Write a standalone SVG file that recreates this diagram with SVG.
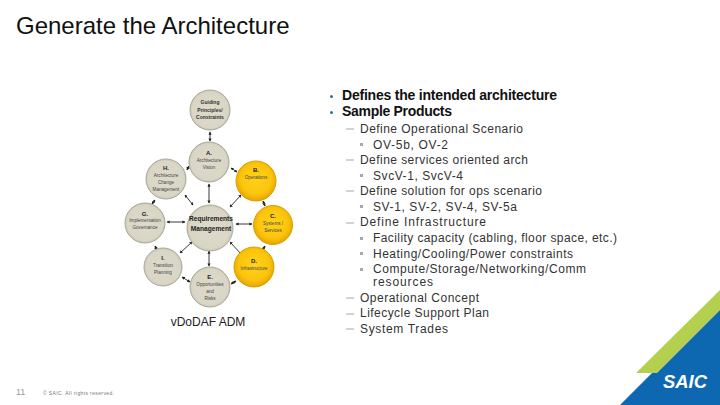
<svg xmlns="http://www.w3.org/2000/svg" width="720" height="405" viewBox="0 0 720 405">
<style>
text{font-family:"Liberation Sans",Arial,sans-serif;fill:#1c1c1c}
.l{font-size:12px;fill:#333}
.b{font-size:14px;font-weight:bold;fill:#111}
.g{fill:url(#gg);stroke:#a9a99a;stroke-width:1}
.y{fill:url(#yg);stroke:#d9a100;stroke-width:1}
.c{font-size:4.6px;text-anchor:middle;fill:#444}
.s{font-size:5px;text-anchor:middle;font-weight:bold;fill:#333}
.h{font-size:6px;text-anchor:middle;font-weight:bold;fill:#222}
.m{font-size:6.6px;text-anchor:middle;font-weight:bold;fill:#222}
.d{fill:#a8a8a8}
line{stroke:#222;stroke-width:.9;marker-start:url(#a);marker-end:url(#a)}
</style>
<defs>
<radialGradient id="yg" cx=".5" cy=".45" r=".55"><stop offset="0" stop-color="#ffd21a"/><stop offset=".7" stop-color="#fcc40c"/><stop offset="1" stop-color="#e6a400"/></radialGradient>
<radialGradient id="gg" cx=".5" cy=".5" r=".52"><stop offset="0" stop-color="#dddacb"/><stop offset=".85" stop-color="#d9d6c6"/><stop offset="1" stop-color="#c4c2b2"/></radialGradient>
<marker id="a" viewBox="0 0 6 6" refX="5" refY="3" markerWidth="3.500" markerHeight="3.500" orient="auto-start-reverse"><path d="M0 0L6 3L0 6z" fill="#222"/></marker>
</defs>
<rect width="720" height="405" fill="#fff"/>
<text x="16" y="34" style="font-size:24px;fill:#111">Generate the Architecture</text>
<g id="connectors">
<line x1="210" y1="132" x2="210" y2="141"/>
<line x1="209" y1="184" x2="209" y2="203"/>
<line x1="231" y1="168" x2="237" y2="172"/>
<line x1="187" y1="170" x2="189" y2="166"/>
<line x1="185" y1="195" x2="193" y2="205"/>
<line x1="230" y1="207" x2="241" y2="195"/>
<line x1="263" y1="201" x2="265" y2="206"/>
<line x1="236" y1="224" x2="252" y2="224"/>
<line x1="167" y1="222" x2="185" y2="222"/>
<line x1="265" y1="246" x2="262" y2="251"/>
<line x1="230" y1="242" x2="242" y2="255"/>
<line x1="209" y1="251" x2="209" y2="266"/>
<line x1="236" y1="281" x2="231" y2="284"/>
<line x1="190" y1="282" x2="182" y2="277"/>
<line x1="192" y1="242" x2="180" y2="253"/>
<line x1="155" y1="246" x2="157" y2="250"/>
<line x1="155" y1="200" x2="152" y2="204"/>
</g>
<g id="guiding"><circle class="g" cx="210" cy="110" r="20"/><text class="s" x="210" y="104">Guiding</text><text class="s" x="210" y="112">Principles/</text><text class="s" x="210" y="119">Constraints</text></g>
<g id="a-node"><circle class="g" cx="209" cy="162" r="20"/><text class="h" x="209" y="155">A.</text><text class="c" x="209" y="162">Architecture</text><text class="c" x="209" y="169">Vision</text></g>
<g id="b-node"><circle class="y" cx="256" cy="181" r="20"/><text class="h" x="256" y="172">B.</text><text class="c" x="256" y="179">Operations</text></g>
<g id="h-node"><circle class="g" cx="166" cy="179" r="20"/><text class="h" x="166" y="170">H.</text><text class="c" x="166" y="177">Architecture</text><text class="c" x="166" y="184">Change</text><text class="c" x="166" y="191">Management</text></g>
<g id="req"><circle class="g" cx="210" cy="228" r="23"/><text class="m" x="211" y="221">Requirements</text><text class="m" x="211" y="231">Management</text></g>
<g id="c-node"><circle class="y" cx="273" cy="225" r="19.500"/><text class="h" x="273" y="218">C.</text><text class="c" x="273" y="225">Systems /</text><text class="c" x="273" y="232">Services</text></g>
<g id="d-node"><circle class="y" cx="254" cy="267" r="20"/><text class="h" x="254" y="263">D.</text><text class="c" x="254" y="270">Infrastructure</text></g>
<g id="e-node"><circle class="g" cx="210" cy="287" r="20"/><text class="h" x="210" y="279">E.</text><text class="c" x="210" y="286">Opportunities</text><text class="c" x="210" y="293">and</text><text class="c" x="210" y="300">Risks</text></g>
<g id="i-node"><circle class="g" cx="163" cy="267" r="19"/><text class="h" x="163" y="260">I.</text><text class="c" x="163" y="267">Transition</text><text class="c" x="163" y="274">Planning</text></g>
<g id="g-node"><circle class="g" cx="145" cy="223" r="20"/><text class="h" x="145" y="216">G.</text><text class="c" x="145" y="222">Implementation</text><text class="c" x="145" y="229">Governance</text></g>
<text x="208" y="326" style="font-size:12px;text-anchor:middle;fill:#222">vDoDAF ADM</text>
<g id="text-list">
<circle cx="331.500" cy="96.500" r="1.500" fill="#2b6f8e"/><text class="b" x="342" y="100" textLength="215">Defines the intended architecture</text>
<circle cx="331.500" cy="112.500" r="1.500" fill="#2b6f8e"/><text class="b" x="342" y="116" textLength="110">Sample Products</text>
<path class="d" d="M346 128.500h8v1h-8zM346 159.500h8v1h-8zM346 190.500h8v1h-8zM346 222.500h8v1h-8zM346 297.500h8v1h-8zM346 313.500h8v1h-8zM346 328.500h8v1h-8z"/>
<path class="d" d="M360 143h3v3h-3zM360 174h3v3h-3zM360 205h3v3h-3zM360 237h3v3h-3zM360 252h3v3h-3zM360 268h3v3h-3z"/>
<text class="l" x="360" y="133" textLength="163">Define Operational Scenario</text>
<text class="l" x="373" y="149" textLength="75">OV-5b, OV-2</text>
<text class="l" x="360" y="164" textLength="168">Define services oriented arch</text>
<text class="l" x="373" y="180" textLength="90">SvcV-1, SvcV-4</text>
<text class="l" x="360" y="195" textLength="182">Define solution for ops scenario</text>
<text class="l" x="373" y="211" textLength="144">SV-1, SV-2, SV-4, SV-5a</text>
<text class="l" x="360" y="226" textLength="126">Define Infrastructure</text>
<text class="l" x="373" y="242" textLength="244">Facility capacity (cabling, floor space, etc.)</text>
<text class="l" x="373" y="258" textLength="200">Heating/Cooling/Power constraints</text>
<text class="l" x="373" y="273" textLength="213">Compute/Storage/Networking/Comm</text>
<text class="l" x="373" y="286" textLength="60">resources</text>
<text class="l" x="360" y="302" textLength="119">Operational Concept</text>
<text class="l" x="360" y="317" textLength="129">Lifecycle Support Plan</text>
<text class="l" x="360" y="333" textLength="88">System Trades</text>
</g>
<g id="footer">
<text x="16" y="395" style="font-size:9px;fill:#999">11</text>
<text x="43" y="395" textLength="71" style="font-size:5px;fill:#777">© SAIC. All rights reserved.</text>
</g>
<g id="logo">
<polygon points="636,373 720,290 720,310 657,373" fill="#b5cf4e"/>
<polygon points="620,405 652,373 657,373 720,310 720,405" fill="#0e67b1"/>
<text x="663" y="388" textLength="44" lengthAdjust="spacingAndGlyphs" style="font-size:19px;font-weight:bold;font-style:italic;fill:#fff">SAIC</text>
</g>
</svg>
